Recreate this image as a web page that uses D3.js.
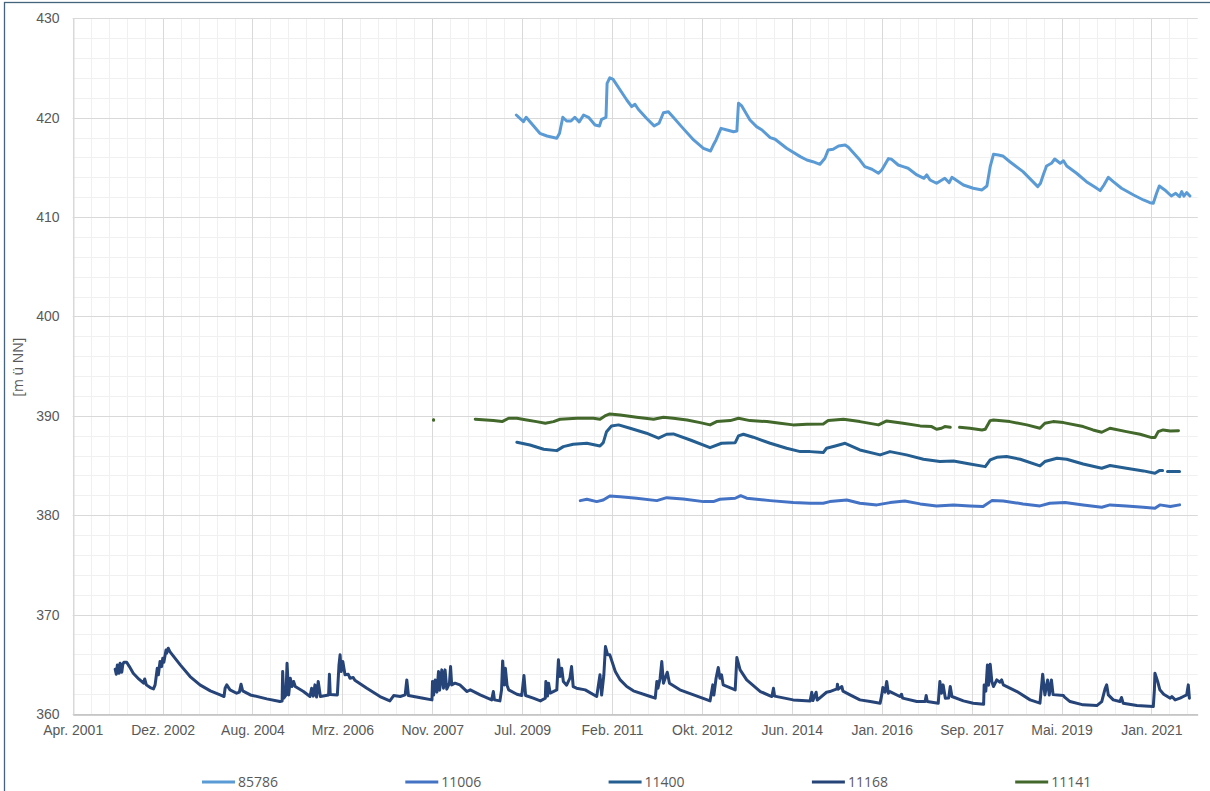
<!DOCTYPE html>
<html>
<head>
<meta charset="utf-8">
<script src="https://cdn.jsdelivr.net/npm/d3@7"></script>
<style>
  body { margin: 0; background: #fff; }
  svg { display: block; font-family: "Open Sans", "Noto Sans", sans-serif; }
  .tick text { fill: #595959; font-size: 14px; }
</style>
</head>
<body>
<div id="chart"></div>
<script>
// values, [decimal year, m ü NN]; null = gap in the record
var s85786 = [[2009.40,420.27],[2009.53,419.6],[2009.58,420.04],[2009.83,418.43],[2009.96,418.16],[2010.14,417.93],[2010.19,418.43],[2010.25,420.04],[2010.32,419.67],[2010.40,419.67],[2010.47,420.04],[2010.55,419.57],[2010.63,420.27],[2010.72,420.04],[2010.84,419.27],[2010.92,419.17],[2010.96,419.84],[2011.04,420.04],[2011.06,423.46],[2011.11,424.02],[2011.17,423.86],[2011.42,421.78],[2011.51,421.11],[2011.57,421.35],[2011.63,420.85],[2011.78,419.94],[2011.92,419.17],[2012.01,419.44],[2012.09,420.50],[2012.18,420.6],[2012.27,420.04],[2012.42,419.1],[2012.64,417.76],[2012.82,416.92],[2012.95,416.65],[2013.00,417.25],[2013.05,417.76],[2013.14,418.93],[2013.25,418.76],[2013.37,418.59],[2013.43,418.66],[2013.46,421.45],[2013.52,421.18],[2013.67,419.77],[2013.79,419.1],[2013.89,418.76],[2014.04,417.99],[2014.13,417.83],[2014.34,416.92],[2014.59,416.08],[2014.71,415.74],[2014.82,415.57],[2014.95,415.31],[2015.04,415.92],[2015.10,416.75],[2015.19,416.82],[2015.29,417.15],[2015.41,417.25],[2015.47,417.02],[2015.68,415.74],[2015.77,415.07],[2015.90,414.81],[2016.02,414.41],[2016.08,414.74],[2016.20,415.88],[2016.26,415.81],[2016.38,415.24],[2016.47,415.07],[2016.56,414.91],[2016.72,414.24],[2016.85,413.9],[2016.90,414.24],[2016.96,413.73],[2017.08,413.4],[2017.23,413.9],[2017.31,413.46],[2017.36,414.0],[2017.57,413.23],[2017.75,412.9],[2017.91,412.73],[2018.00,413.13],[2018.06,415.07],[2018.12,416.32],[2018.21,416.25],[2018.29,416.15],[2018.42,415.57],[2018.66,414.57],[2018.93,413.06],[2018.98,413.4],[2019.03,414.24],[2019.09,415.14],[2019.18,415.41],[2019.24,415.84],[2019.34,415.41],[2019.40,415.67],[2019.46,415.14],[2019.64,414.41],[2019.82,413.56],[2019.98,413.0],[2020.07,412.66],[2020.14,413.23],[2020.22,414.0],[2020.31,413.56],[2020.46,412.9],[2020.68,412.22],[2020.86,411.72],[2020.98,411.45],[2021.04,411.39],[2021.10,412.39],[2021.15,413.13],[2021.25,412.73],[2021.37,412.12],[2021.45,412.39],[2021.52,412.05],[2021.56,412.56],[2021.60,412.1],[2021.65,412.46],[2021.71,412.12]];

var s11006 = [[2010.57,381.47],[2010.69,381.61],[2010.87,381.37],[2010.99,381.54],[2011.11,381.94],[2011.30,381.87],[2011.60,381.71],[2011.97,381.47],[2012.15,381.77],[2012.45,381.64],[2012.82,381.37],[2013.00,381.37],[2013.12,381.61],[2013.40,381.71],[2013.50,381.97],[2013.61,381.71],[2014.04,381.47],[2014.46,381.27],[2014.77,381.21],[2015.01,381.21],[2015.13,381.37],[2015.44,381.54],[2015.68,381.21],[2015.99,381.04],[2016.23,381.27],[2016.50,381.44],[2016.78,381.14],[2017.08,380.94],[2017.39,381.04],[2017.69,380.94],[2017.93,380.87],[2018.09,381.47],[2018.30,381.44],[2018.66,381.14],[2018.97,380.94],[2019.15,381.21],[2019.43,381.27],[2019.76,381.04],[2020.10,380.80],[2020.25,381.04],[2020.55,380.94],[2020.86,380.80],[2021.07,380.70],[2021.16,381.04],[2021.35,380.87],[2021.52,381.04]];

var s11400 = [[2009.41,387.34],[2009.65,387.07],[2009.90,386.64],[2010.14,386.50],[2010.26,386.90],[2010.44,387.14],[2010.69,387.24],[2010.93,386.97],[2010.99,387.30],[2011.05,388.41],[2011.14,388.98],[2011.27,389.09],[2011.48,388.75],[2011.78,388.25],[2012.00,387.75],[2012.15,388.15],[2012.27,388.18],[2012.58,387.57],[2012.94,386.8],[2013.15,387.24],[2013.40,387.30],[2013.46,387.98],[2013.55,388.15],[2013.73,387.85],[2014.04,387.24],[2014.34,386.74],[2014.59,386.40],[2014.77,386.40],[2015.01,386.30],[2015.07,386.74],[2015.23,386.97],[2015.41,387.24],[2015.68,386.57],[2016.05,386.07],[2016.23,386.40],[2016.53,386.07],[2016.84,385.63],[2017.14,385.40],[2017.39,385.46],[2017.69,385.16],[2017.97,384.89],[2018.06,385.56],[2018.18,385.83],[2018.36,385.90],[2018.61,385.63],[2018.97,384.96],[2019.06,385.40],[2019.28,385.73],[2019.46,385.63],[2019.76,385.16],[2020.10,384.73],[2020.25,385.0],[2020.55,384.73],[2020.86,384.46],[2021.07,384.23],[2021.15,384.49],[2021.21,384.49],[2021.25,null],[2021.30,384.39],[2021.52,384.39]];

var s11168 = [[2002.07,364.51],[2002.09,364.0],[2002.11,364.94],[2002.14,364.10],[2002.16,365.11],[2002.19,364.20],[2002.21,365.01],[2002.23,365.21],[2002.28,365.21],[2002.33,364.77],[2002.40,364.10],[2002.50,363.53],[2002.59,363.10],[2002.61,363.53],[2002.64,362.93],[2002.71,362.66],[2002.77,362.53],[2002.80,362.93],[2002.82,363.77],[2002.84,364.61],[2002.86,363.94],[2002.89,365.28],[2002.92,364.77],[2002.94,365.61],[2002.96,365.21],[2003.00,366.45],[2003.01,366.12],[2003.04,366.62],[2003.07,366.28],[2003.26,364.94],[2003.44,363.77],[2003.62,362.93],[2003.81,362.33],[2003.99,361.92],[2004.06,361.76],[2004.08,362.59],[2004.11,362.93],[2004.17,362.43],[2004.29,362.09],[2004.34,362.2],[2004.37,363.0],[2004.40,362.33],[2004.54,361.92],[2004.84,361.52],[2005.08,361.25],[2005.12,361.3],[2005.13,364.27],[2005.15,361.59],[2005.19,361.9],[2005.21,365.11],[2005.24,361.92],[2005.27,363.6],[2005.30,362.76],[2005.33,363.27],[2005.36,362.76],[2005.51,362.26],[2005.63,361.76],[2005.66,362.59],[2005.69,361.8],[2005.72,362.93],[2005.75,361.7],[2005.78,363.27],[2005.82,361.76],[2005.97,361.92],[2005.985,364.0],[2006.00,361.95],[2006.13,361.92],[2006.16,364.94],[2006.18,365.95],[2006.20,364.27],[2006.23,365.28],[2006.27,363.94],[2006.33,364.0],[2006.36,363.60],[2006.42,363.67],[2006.45,363.4],[2006.67,362.59],[2006.91,361.76],[2007.09,361.32],[2007.16,361.86],[2007.28,361.76],[2007.37,361.92],[2007.40,363.43],[2007.43,361.86],[2007.70,361.59],[2007.86,361.42],[2007.87,363.27],[2007.89,361.9],[2007.92,363.43],[2007.95,362.2],[2007.98,364.27],[2008.00,362.4],[2008.04,364.44],[2008.07,362.6],[2008.10,364.44],[2008.13,362.5],[2008.18,363.1],[2008.20,364.77],[2008.22,362.93],[2008.28,363.10],[2008.37,362.93],[2008.50,362.26],[2008.56,362.43],[2008.74,361.92],[2008.95,361.42],[2008.98,362.26],[2009.00,361.42],[2009.10,361.32],[2009.13,362.43],[2009.15,365.34],[2009.18,362.93],[2009.20,364.61],[2009.23,362.9],[2009.26,362.43],[2009.41,361.99],[2009.50,361.86],[2009.54,363.87],[2009.57,361.86],[2009.71,361.59],[2009.84,361.32],[2009.93,361.59],[2009.94,363.27],[2009.97,361.8],[2009.99,363.10],[2010.02,362.1],[2010.14,362.43],[2010.17,365.45],[2010.20,363.77],[2010.23,364.61],[2010.26,363.27],[2010.32,362.9],[2010.38,363.60],[2010.41,364.77],[2010.44,362.76],[2010.50,362.6],[2010.66,362.43],[2010.87,361.76],[2010.93,363.94],[2010.96,361.9],[2011.00,363.9],[2011.03,366.79],[2011.07,365.95],[2011.11,365.95],[2011.21,364.27],[2011.30,363.43],[2011.42,362.76],[2011.54,362.33],[2011.85,361.76],[2011.94,361.59],[2011.97,363.27],[2011.99,362.6],[2012.03,363.60],[2012.06,365.28],[2012.09,363.10],[2012.16,364.20],[2012.20,363.10],[2012.39,362.43],[2012.64,361.92],[2012.94,361.32],[2012.99,362.93],[2013.01,361.9],[2013.05,363.60],[2013.09,364.67],[2013.12,363.60],[2013.15,363.94],[2013.18,362.93],[2013.40,362.43],[2013.43,365.68],[2013.49,364.44],[2013.61,363.43],[2013.86,362.26],[2014.07,361.76],[2014.10,362.59],[2014.12,361.8],[2014.46,361.42],[2014.77,361.32],[2014.80,362.19],[2014.82,361.35],[2014.88,362.19],[2014.90,361.4],[2015.07,362.19],[2015.13,362.26],[2015.26,362.53],[2015.27,363.0],[2015.28,362.5],[2015.35,362.76],[2015.37,362.3],[2015.50,361.92],[2015.68,361.42],[2015.87,361.25],[2016.05,361.09],[2016.08,361.92],[2016.10,362.66],[2016.14,362.2],[2016.17,363.27],[2016.20,362.09],[2016.23,362.26],[2016.41,361.76],[2016.44,361.99],[2016.46,361.6],[2016.72,361.25],[2016.87,361.25],[2016.89,361.86],[2016.91,361.25],[2017.11,361.09],[2017.14,363.27],[2017.17,362.09],[2017.20,362.93],[2017.24,361.59],[2017.30,361.6],[2017.33,362.76],[2017.36,361.76],[2017.57,361.32],[2017.75,361.09],[2017.94,360.98],[2017.95,362.93],[2017.98,362.3],[2018.01,364.94],[2018.03,362.9],[2018.06,365.01],[2018.09,363.27],[2018.12,362.76],[2018.18,363.43],[2018.24,363.2],[2018.27,363.43],[2018.30,362.93],[2018.55,362.26],[2018.79,361.42],[2018.97,361.09],[2019.02,364.0],[2019.06,361.92],[2019.11,363.43],[2019.14,361.9],[2019.18,363.43],[2019.21,361.95],[2019.40,361.86],[2019.42,361.7],[2019.52,361.25],[2019.76,360.92],[2020.01,360.85],[2020.10,361.25],[2020.16,362.53],[2020.19,362.93],[2020.22,361.92],[2020.31,361.42],[2020.43,361.25],[2020.46,361.66],[2020.49,361.09],[2020.74,360.85],[2021.04,360.75],[2021.06,362.4],[2021.07,364.10],[2021.12,363.27],[2021.16,362.43],[2021.23,361.99],[2021.35,361.59],[2021.38,361.76],[2021.44,361.42],[2021.53,361.59],[2021.59,361.76],[2021.65,361.92],[2021.68,362.93],[2021.70,361.59]];

var s11141 = [[2007.89,389.59],[2008.30,null],[2008.65,389.66],[2008.98,389.52],[2009.14,389.42],[2009.26,389.76],[2009.41,389.76],[2009.59,389.59],[2009.77,389.42],[2009.93,389.26],[2010.08,389.42],[2010.20,389.66],[2010.51,389.76],[2010.81,389.76],[2010.93,389.66],[2011.02,389.99],[2011.11,390.19],[2011.30,390.09],[2011.60,389.86],[2011.91,389.66],[2012.09,389.86],[2012.27,389.76],[2012.52,389.59],[2012.76,389.32],[2012.94,389.09],[2013.06,389.42],[2013.31,389.52],[2013.46,389.76],[2013.67,389.52],[2013.98,389.42],[2014.22,389.26],[2014.46,389.09],[2014.71,389.16],[2015.01,389.19],[2015.10,389.52],[2015.38,389.66],[2015.68,389.42],[2016.02,389.09],[2016.17,389.49],[2016.47,389.26],[2016.78,388.99],[2016.99,388.92],[2017.08,388.65],[2017.17,388.75],[2017.23,388.92],[2017.33,388.85],[2017.42,null],[2017.50,388.85],[2017.69,388.75],[2017.91,388.58],[2017.97,388.65],[2018.06,389.52],[2018.12,389.59],[2018.42,389.42],[2018.73,389.09],[2018.97,388.75],[2019.06,389.26],[2019.21,389.42],[2019.40,389.32],[2019.76,388.92],[2019.94,388.58],[2020.10,388.35],[2020.25,388.75],[2020.55,388.41],[2020.80,388.15],[2021.01,387.81],[2021.07,387.81],[2021.13,388.41],[2021.22,388.58],[2021.35,388.48],[2021.50,388.51]];

var seriesNames = ["85786", "11006", "11400", "11168", "11141"];
var seriesData = [s85786, s11006, s11400, s11168, s11141];
var seriesColors = ["#5b9bd5", "#4472c4", "#255e91", "#264478", "#43682b"];

var xTickLabels = ["Apr. 2001", "Dez. 2002", "Aug. 2004", "Mrz. 2006", "Nov. 2007", "Jul. 2009", "Feb. 2011",
                   "Okt. 2012", "Jun. 2014", "Jan. 2016", "Sep. 2017", "Mai. 2019", "Jan. 2021"];
var yTicks = [360, 370, 380, 390, 400, 410, 420, 430];
var yLabel = "[m ü NN]";

var W = 1210, H = 791;
var margin = {top: 18.3, right: 12.3, bottom: 77, left: 72.7};

// excel axis: starts at serial 37000 (18.04.2001), major unit 600 days, minor 120
var xStart = new Date(2001, 3, 18), xEnd = new Date(2021, 10, 8);

function yearToDate(t) {
	var y = Math.floor(t);
	var a = new Date(y, 0, 1), b = new Date(y + 1, 0, 1);
	return new Date(+a + (t - y) * (b - a));
}

var svg = d3.select("#chart").append("svg")
	.attr("width", W)
	.attr("height", H);

svg.append("rect").attr("width", W).attr("height", H).attr("fill", "#fff");

var x = d3.scaleTime()
	.domain([xStart, xEnd])
	.range([margin.left, W - margin.right]);

var y = d3.scaleLinear()
	.domain([360, 430])
	.range([H - margin.bottom, margin.top]);

var majorDates = xTickLabels.map(function(d, i) { return d3.timeDay.offset(xStart, i * 600); });
var minorDates = d3.range(0, 7600, 120).map(function(d) { return d3.timeDay.offset(xStart, d); })
	.filter(function(d) { return d <= xEnd; });
var minorY = d3.range(360, 431, 2);

// minor grid
var grid = svg.append("g");
grid.selectAll(".vmin").data(minorDates).enter().append("line")
	.attr("x1", function(d) { return Math.round(x(d)) + 0.5; })
	.attr("x2", function(d) { return Math.round(x(d)) + 0.5; })
	.attr("y1", y(430)).attr("y2", y(360))
	.attr("stroke", "#f0f0f0");
grid.selectAll(".hmin").data(minorY).enter().append("line")
	.attr("x1", x.range()[0]).attr("x2", x.range()[1])
	.attr("y1", function(d) { return Math.round(y(d)) + 0.5; })
	.attr("y2", function(d) { return Math.round(y(d)) + 0.5; })
	.attr("stroke", "#f0f0f0");

// major grid
grid.selectAll(".vmaj").data(majorDates).enter().append("line")
	.attr("x1", function(d) { return Math.round(x(d)) + 0.5; })
	.attr("x2", function(d) { return Math.round(x(d)) + 0.5; })
	.attr("y1", y(430)).attr("y2", y(360))
	.attr("stroke", "#d9d9d9");
grid.selectAll(".hmaj").data(yTicks).enter().append("line")
	.attr("x1", x.range()[0]).attr("x2", x.range()[1])
	.attr("y1", function(d) { return Math.round(y(d)) + 0.5; })
	.attr("y2", function(d) { return Math.round(y(d)) + 0.5; })
	.attr("stroke", "#d9d9d9");

// axes
var xAxis = svg.append("g")
	.attr("transform", "translate(0," + (Math.round(y(360)) + 0.5) + ")")
	.call(d3.axisBottom(x).tickValues(majorDates).tickSize(0).tickPadding(11)
		.tickFormat(function(d, i) { return xTickLabels[i]; }));
xAxis.select(".domain").attr("stroke", "#bfbfbf").attr("stroke-width", 1.3);

var yAxis = svg.append("g")
	.attr("transform", "translate(" + (Math.round(x.range()[0]) + 0.5) + ",0)")
	.call(d3.axisLeft(y).tickValues(yTicks).tickSize(0).tickPadding(14));
yAxis.select(".domain").attr("stroke", "#d9d9d9");

svg.append("text")
	.attr("transform", "translate(23," + (y(395) + 1) + ") rotate(-90)")
	.attr("text-anchor", "middle")
	.attr("fill", "#595959")
	.style("font-size", "14px")
	.text(yLabel);

// series
var line = d3.line()
	.defined(function(d) { return d[1] != null; })
	.x(function(d) { return x(yearToDate(d[0])); })
	.y(function(d) { return y(d[1]); });

var lines = svg.append("g");
seriesData.forEach(function(data, k) {
	lines.append("path")
		.datum(data)
		.attr("fill", "none")
		.attr("stroke", seriesColors[k])
		.attr("stroke-width", 3)
		.attr("stroke-linejoin", "round")
		.attr("stroke-linecap", "round")
		.attr("d", line);
	// single readings with gaps on both sides
	var lone = data.filter(function(d, i) {
		return d[1] != null && (i == 0 || data[i - 1][1] == null) && (i == data.length - 1 || data[i + 1][1] == null);
	});
	lines.selectAll(null).data(lone).enter().append("circle")
		.attr("cx", function(d) { return x(yearToDate(d[0])); })
		.attr("cy", function(d) { return y(d[1]); })
		.attr("r", 1.6)
		.attr("fill", seriesColors[k]);
});

// legend
var legend = svg.append("g").attr("transform", "translate(202,782)");
var item = legend.selectAll("g").data(seriesNames).enter().append("g")
	.attr("transform", function(d, i) { return "translate(" + (i * 203.3) + ",0)"; });
item.append("line")
	.attr("x1", 0).attr("x2", 33)
	.attr("stroke", function(d, i) { return seriesColors[i]; })
	.attr("stroke-width", 3);
item.append("text")
	.attr("x", 36)
	.attr("dy", "0.35em")
	.attr("fill", "#595959")
	.style("font-size", "14px")
	.text(function(d) { return d; });

// chart frame
svg.append("rect")
	.attr("x", 4.5).attr("y", 2.5)
	.attr("width", W).attr("height", H)
	.attr("fill", "none")
	.attr("stroke", "#44637c")
	.attr("stroke-width", 1.3);
</script>
</body>
</html>
